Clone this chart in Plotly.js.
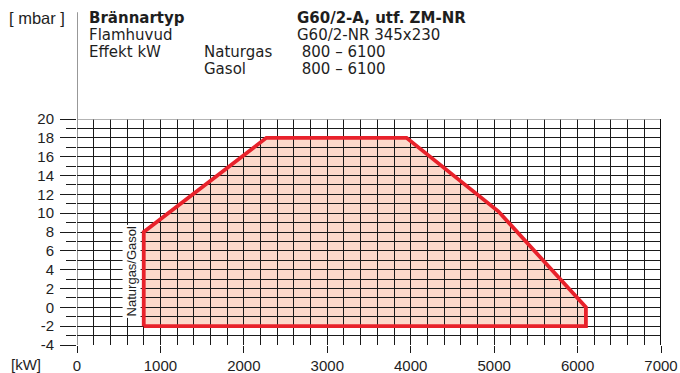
<!DOCTYPE html>
<html>
<head>
<meta charset="utf-8">
<script src="https://cdn.plot.ly/plotly-3.0.1.min.js"></script>
<style>
html,body{margin:0;padding:0;background:#fff;}
#chart{width:680px;height:373px;}
</style>
</head>
<body>
<div id="chart"></div>
<script>
// ---- data ----
const powerKW = [800, 800, 2270, 3950, 5050, 6100, 6100, 800];
const pressureMbar = [-2, 8, 18, 18, 10.2, 0, -2, -2];
const xTickVals = [0, 1000, 2000, 3000, 4000, 5000, 6000, 7000];
const xTickText = ["0", "1000", "2000", "3000", "4000", "5000", "6000", "7000"];
const yTickVals = [-4, -2, 0, 2, 4, 6, 8, 10, 12, 14, 16, 18, 20];
const yTickText = ["-4", "-2", "0", "2", "4", "6", "8", "10", "12", "14", "16", "18", "20"];
const headerRows = [
  ["Brännartyp", "", "G60/2-A, utf. ZM-NR"],
  ["Flamhuvud", "", "G60/2-NR 345x230"],
  ["Effekt kW", "Naturgas", " 800 – 6100"],
  ["", "Gasol", " 800 – 6100"]
];
const curveLabel = "Naturgas/Gasol";
const yUnit = "[ mbar ]";
const xUnit = "[kW]";

// ---- layout geometry ----
const W = 680, H = 373;
const M = {l: 77.3, r: 19, t: 119, b: 27.5};
const plotW = W - M.l - M.r, plotH = H - M.t - M.b;
const px = x => (x - M.l) / plotW;
const py = y => (H - M.b - y) / plotH;
const font = "Liberation Sans, Arial, Helvetica, sans-serif";
const headFont = "DejaVu Sans, Liberation Sans, sans-serif";
const textColor = "#1e1e1e";
const gridColor = "#1a1a1a";

const pathStr = "M " + powerKW.map((x, i) => x + "," + pressureMbar[i]).join(" L ") + " Z";

const annotations = [];
const rowY = [17.5, 35, 52, 69];
const colX = [88, 203, 296];
headerRows.forEach((row, r) => {
  row.forEach((txt, c) => {
    if (!txt) return;
    const bold = r === 0;
    annotations.push({
      text: bold ? "<b>" + txt + "</b>" : txt,
      xref: "paper", yref: "paper",
      x: px(colX[c]), y: py(rowY[r]),
      xanchor: "left", yanchor: "middle",
      showarrow: false, borderpad: 0,
      font: {family: headFont, size: 15, color: textColor}
    });
  });
});
annotations.push({
  text: yUnit, xref: "paper", yref: "paper",
  x: px(8), y: py(17.5), xanchor: "left", yanchor: "middle",
  showarrow: false, borderpad: 0, font: {family: font, size: 16.5, color: textColor}
});
annotations.push({
  text: xUnit, xref: "paper", yref: "paper",
  x: px(9), y: py(365), xanchor: "left", yanchor: "middle",
  showarrow: false, font: {family: font, size: 15, color: textColor}
});
annotations.push({
  text: curveLabel, xref: "paper", yref: "paper",
  x: px(132), y: py(272), xanchor: "center", yanchor: "middle",
  textangle: -90, showarrow: false, bgcolor: "#ffffff", borderpad: 1,
  font: {family: font, size: 13, color: textColor}
});

const traces = [{
  type: "scatter",
  mode: "lines",
  x: powerKW,
  y: pressureMbar,
  line: {color: "#e8222b", width: 3.8},
  hoverinfo: "skip",
  showlegend: false
}];

const layout = {
  width: W, height: H,
  margin: M,
  paper_bgcolor: "#ffffff",
  plot_bgcolor: "rgba(0,0,0,0)",
  showlegend: false,
  font: {family: font, color: textColor},
  xaxis: {
    range: [xTickVals[0], xTickVals[xTickVals.length - 1]],
    tickmode: "array", tickvals: xTickVals, ticktext: xTickText,
    ticks: "outside", ticklen: 7, tickcolor: gridColor, tickwidth: 1,
    showgrid: true, gridcolor: gridColor, gridwidth: 1,
    zeroline: false, showline: false,
    tickfont: {family: font, size: 15, color: textColor},
    minor: {tickmode: "linear", tick0: 0, dtick: 200, showgrid: true, gridcolor: gridColor, gridwidth: 1, ticks: ""},
    fixedrange: true
  },
  yaxis: {
    range: [yTickVals[0], yTickVals[yTickVals.length - 1]],
    tickmode: "array", tickvals: yTickVals, ticktext: yTickText,
    ticks: "outside", ticklen: 16, tickcolor: gridColor, tickwidth: 1,
    ticklabelstandoff: 3,
    showgrid: true, gridcolor: gridColor, gridwidth: 1,
    zeroline: false, showline: false,
    tickfont: {family: font, size: 15, color: textColor},
    minor: {tickmode: "linear", tick0: 0, dtick: 1, showgrid: true, gridcolor: gridColor, gridwidth: 1, ticks: "outside", ticklen: 10, tickcolor: gridColor},
    fixedrange: true
  },
  shapes: [
    {type: "path", xref: "x", yref: "y", path: pathStr, fillcolor: "#fcd9cb", line: {width: 0}, layer: "below"},
    {type: "line", xref: "x", yref: "paper", x0: xTickVals[0], x1: xTickVals[0], y0: 0, y1: py(12), line: {color: "#333333", width: 1}},
    {type: "line", xref: "paper", yref: "y", x0: 0, x1: 1, y0: yTickVals[yTickVals.length - 1], y1: yTickVals[yTickVals.length - 1], line: {color: "#9a9a9a", width: 1.5}},
    {type: "line", xref: "x", yref: "paper", x0: xTickVals[xTickVals.length - 1], x1: xTickVals[xTickVals.length - 1], y0: 0, y1: 1, line: {color: "#111111", width: 2}}
  ],
  annotations: annotations
};

Plotly.newPlot("chart", traces, layout, {displayModeBar: false, staticPlot: true});
</script>
</body>
</html>
